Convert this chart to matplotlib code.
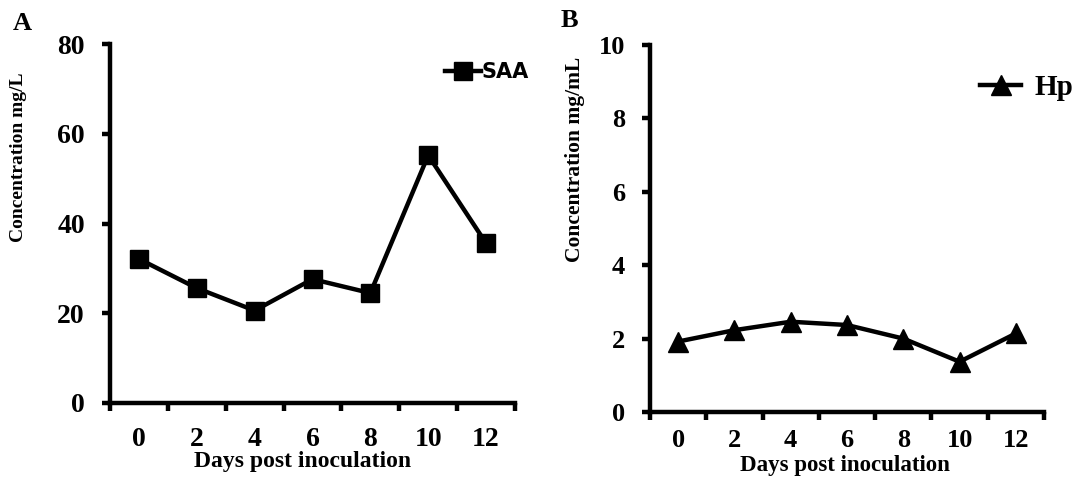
import matplotlib.pyplot as plt
import numpy as np

# data
days = ['0', '2', '4', '6', '8', '10', '12']
saa = [32.1, 25.6, 20.6, 27.6, 24.5, 55.2, 35.6]
hp = [1.92, 2.23, 2.46, 2.37, 2.0, 1.37, 2.14]

serif = 'Liberation Serif'
W, H = 1081, 480

fig = plt.figure(figsize=(W / 100, H / 100), dpi=100)

# axes boxes in pixels: left, right, bottom, top
def px_axes(x0, x1, y0, y1):
    return fig.add_axes([x0 / W, 1 - y0 / H, (x1 - x0) / W, (y0 - y1) / H])

axA = px_axes(110, 515, 403, 44)
axB = px_axes(650, 1044, 412, 45)


def style(ax, yticks, ylabel, ylab_pos, xlab_pos, ylab_size, tick_size, xpad, xlab_size):
    x = np.arange(len(days))
    ax.set_xlim(-0.5, len(days) - 0.5)
    ax.set_ylim(yticks[0], yticks[-1])
    for s in ['top', 'right']:
        ax.spines[s].set_visible(False)
    for s in ['left', 'bottom']:
        ax.spines[s].set_linewidth(3.2)
    ax.set_xticks(np.arange(-0.5, len(days), 1))
    ax.set_xticklabels([])
    ax.set_xticks(x, minor=True)
    ax.set_xticklabels(days, minor=True, fontfamily=serif, fontweight='bold', fontsize=tick_size)
    ax.tick_params(axis='x', which='major', direction='out', length=6, width=3.2)
    ax.tick_params(axis='x', which='minor', length=0, pad=xpad)
    ax.set_yticks(yticks)
    ax.set_yticklabels([str(v) for v in yticks], fontfamily=serif, fontweight='bold', fontsize=tick_size)
    ax.tick_params(axis='y', direction='out', length=6, width=3.2, pad=12)
    ax.set_ylabel(ylabel, fontfamily=serif, fontweight='bold', fontsize=ylab_size)
    ax.yaxis.set_label_coords(*ylab_pos)
    ax.set_xlabel('Days post inoculation', fontfamily=serif, fontweight='bold', fontsize=xlab_size)
    ax.xaxis.set_label_coords(*xlab_pos)


# Panel A: SAA
x = np.arange(len(days))
axA.plot(x, saa, color='black', lw=3.2, marker='s', markersize=12.5, label='SAA', clip_on=False)
style(axA, [0, 20, 40, 60, 80], 'Concentration mg/L', (-0.205, 0.685), (0.475, -0.133), 14,
      20, 17, 17)
axA.legend(loc='center right', bbox_to_anchor=(1.035, 0.922), frameon=False, borderpad=0,
           borderaxespad=0, handlelength=1.7, handletextpad=0.05,
           prop={'family': 'DejaVu Sans', 'weight': 'bold', 'size': 15})

# Panel B: Hp
axB.plot(x, hp, color='black', lw=3.2, marker='^', markersize=14, label='Hp', clip_on=False)
style(axB, [0, 2, 4, 6, 8, 10], 'Concentration mg/mL', (-0.165, 0.687), (0.495, -0.117), 15.5,
      19, 12, 16.5)
axB.legend(loc='center right', bbox_to_anchor=(1.074, 0.883), frameon=False, borderpad=0,
           borderaxespad=0, handlelength=1.4, handletextpad=0.45,
           prop={'family': serif, 'weight': 'bold', 'size': 21})

# panel letters
fig.text(13 / W, 1 - 12 / H, 'A', fontfamily=serif, fontweight='bold', fontsize=19, ha='left', va='top')
fig.text(561 / W, 1 - 9 / H, 'B', fontfamily=serif, fontweight='bold', fontsize=19, ha='left', va='top')

fig.savefig('out.png', dpi=100)
